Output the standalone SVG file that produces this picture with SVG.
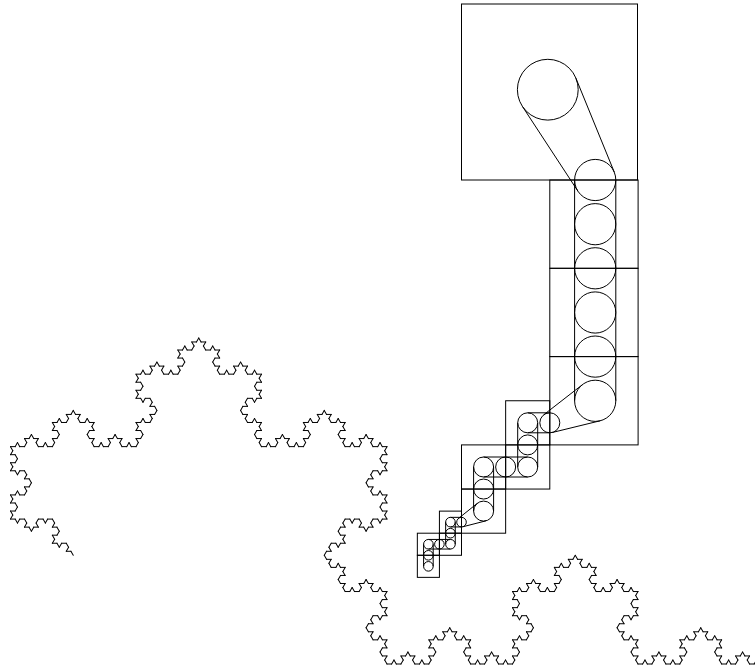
<svg xmlns="http://www.w3.org/2000/svg" xmlns:xlink="http://www.w3.org/1999/xlink" width="755" height="668" viewBox="0 0 755 668">
<style>
.sq{fill:none;stroke:#000;stroke-width:1}
.c{fill:none;stroke:#000;stroke-width:1}
.ln{fill:none;stroke:#000;stroke-width:1}
.k{fill:none;stroke:#000;stroke-width:0.2151;stroke-linecap:round}
</style>
<defs>
<path id="k0" class="k" d="M0 0H1"/>
<g id="k1">
<use href="#k0" transform="scale(0.333333)"/>
<use href="#k0" transform="translate(0.333333 0) rotate(-60) scale(0.333333)"/>
<use href="#k0" transform="translate(0.5 -0.288675) rotate(60) scale(0.333333)"/>
<use href="#k0" transform="translate(0.666667 0) scale(0.333333)"/>
</g>
<g id="k2">
<use href="#k1" transform="scale(0.333333)"/>
<use href="#k1" transform="translate(0.333333 0) rotate(-60) scale(0.333333)"/>
<use href="#k1" transform="translate(0.5 -0.288675) rotate(60) scale(0.333333)"/>
<use href="#k1" transform="translate(0.666667 0) scale(0.333333)"/>
</g>
<g id="k3">
<use href="#k2" transform="scale(0.333333)"/>
<use href="#k2" transform="translate(0.333333 0) rotate(-60) scale(0.333333)"/>
<use href="#k2" transform="translate(0.5 -0.288675) rotate(60) scale(0.333333)"/>
<use href="#k2" transform="translate(0.666667 0) scale(0.333333)"/>
</g>
</defs>
<rect width="755" height="668" fill="#fff"/>
<g id="koch" transform="translate(-366 664) scale(125.5)">
<use href="#k3" transform="translate(3.5 -0.866025) rotate(-120)"/>
<use href="#k3" transform="translate(3 -1.732051)"/>
<use href="#k3" transform="translate(4 -1.732051) rotate(-60)"/>
<use href="#k3" transform="translate(4.5 -2.598076) rotate(60)"/>
<use href="#k3" transform="translate(5 -1.732051)"/>
<use href="#k3" transform="translate(6 -1.732051) rotate(120)"/>
<use href="#k3" transform="translate(5.5 -0.866025) rotate(60)"/>
<use href="#k3" transform="translate(6 0)"/>
<use href="#k3" transform="translate(7 0) rotate(-60)"/>
<use href="#k3" transform="translate(7.5 -0.866025) rotate(60)"/>
<use href="#k3" transform="translate(8 0)"/>
</g>
<g id="squares">
<rect id="q0" class="sq" x="461.5" y="4" width="176" height="176"/>
<rect id="q1a" class="sq" x="549.8" y="180" width="88.3" height="88.3"/>
<rect id="q1b" class="sq" x="549.8" y="268.3" width="88.3" height="88.3"/>
<rect id="q1c" class="sq" x="549.8" y="356.6" width="88.3" height="88.3"/>
<rect id="q2a" class="sq" x="505.65" y="400.75" width="44.15" height="44.15"/>
<rect id="q2b" class="sq" x="505.65" y="444.9" width="44.15" height="44.15"/>
<rect id="q2c" class="sq" x="461.5" y="444.9" width="44.15" height="44.15"/>
<rect id="q2d" class="sq" x="461.5" y="489.05" width="44.15" height="44.15"/>
<rect id="q3a" class="sq" x="439.42" y="511.12" width="22.08" height="22.08"/>
<rect id="q3b" class="sq" x="439.42" y="533.2" width="22.08" height="22.08"/>
<rect id="q3c" class="sq" x="417.34" y="533.2" width="22.08" height="22.08"/>
<rect id="q3d" class="sq" x="417.34" y="555.28" width="22.08" height="22.08"/>
</g>
<g id="circles">
<circle id="c0" class="c" cx="547.8" cy="89.7" r="30.4"/>
<circle class="c" cx="595.2" cy="180" r="20.6"/>
<circle class="c" cx="595.2" cy="224.2" r="20.6"/>
<circle class="c" cx="595.2" cy="268.3" r="20.6"/>
<circle class="c" cx="595.2" cy="312.5" r="20.6"/>
<circle class="c" cx="595.2" cy="356.6" r="20.6"/>
<circle class="c" cx="595.2" cy="400.8" r="20.6"/>
<circle class="c" cx="549.8" cy="422.8" r="10"/>
<circle class="c" cx="527.7" cy="422.8" r="10"/>
<circle class="c" cx="527.7" cy="444.9" r="10"/>
<circle class="c" cx="527.7" cy="467" r="10"/>
<circle class="c" cx="505.65" cy="467" r="10"/>
<circle class="c" cx="483.6" cy="467" r="10"/>
<circle class="c" cx="483.6" cy="489.05" r="10"/>
<circle class="c" cx="483.6" cy="511.1" r="10"/>
<circle class="c" cx="461.5" cy="522.15" r="4.8"/>
<circle class="c" cx="450.45" cy="522.15" r="4.8"/>
<circle class="c" cx="450.45" cy="533.2" r="4.8"/>
<circle class="c" cx="450.45" cy="544.25" r="4.8"/>
<circle class="c" cx="439.4" cy="544.25" r="4.8"/>
<circle class="c" cx="428.4" cy="544.25" r="4.8"/>
<circle class="c" cx="428.4" cy="555.3" r="4.8"/>
<circle class="c" cx="428.4" cy="566.35" r="4.8"/>
</g>
<g id="connectors" class="ln">
<path d="M522.4 106.4L578 191.3M575.9 78.2L614.3 172.2"/>
<path d="M574.6 180V400.8M615.8 180V400.8"/>
<path d="M582.5 384.6L543.6 414.9M600.1 420.8L552.2 432.5"/>
<path d="M527.7 412.8H549.8M527.7 432.8H549.8M517.7 422.8V467M537.7 422.8V467M483.6 457H527.7M483.6 477H527.7M473.6 467V511.1M493.6 467V511.1"/>
<path d="M477.35 503.3L458.5 518.4M486.1 520.8L462.7 526.8"/>
<path d="M450.45 517.35H461.5M450.45 526.95H461.5M445.65 522.15V544.25M455.25 522.15V544.25M428.4 539.45H450.45M428.4 549.05H450.45M423.6 544.25V566.35M433.2 544.25V566.35"/>
</g>
</svg>
